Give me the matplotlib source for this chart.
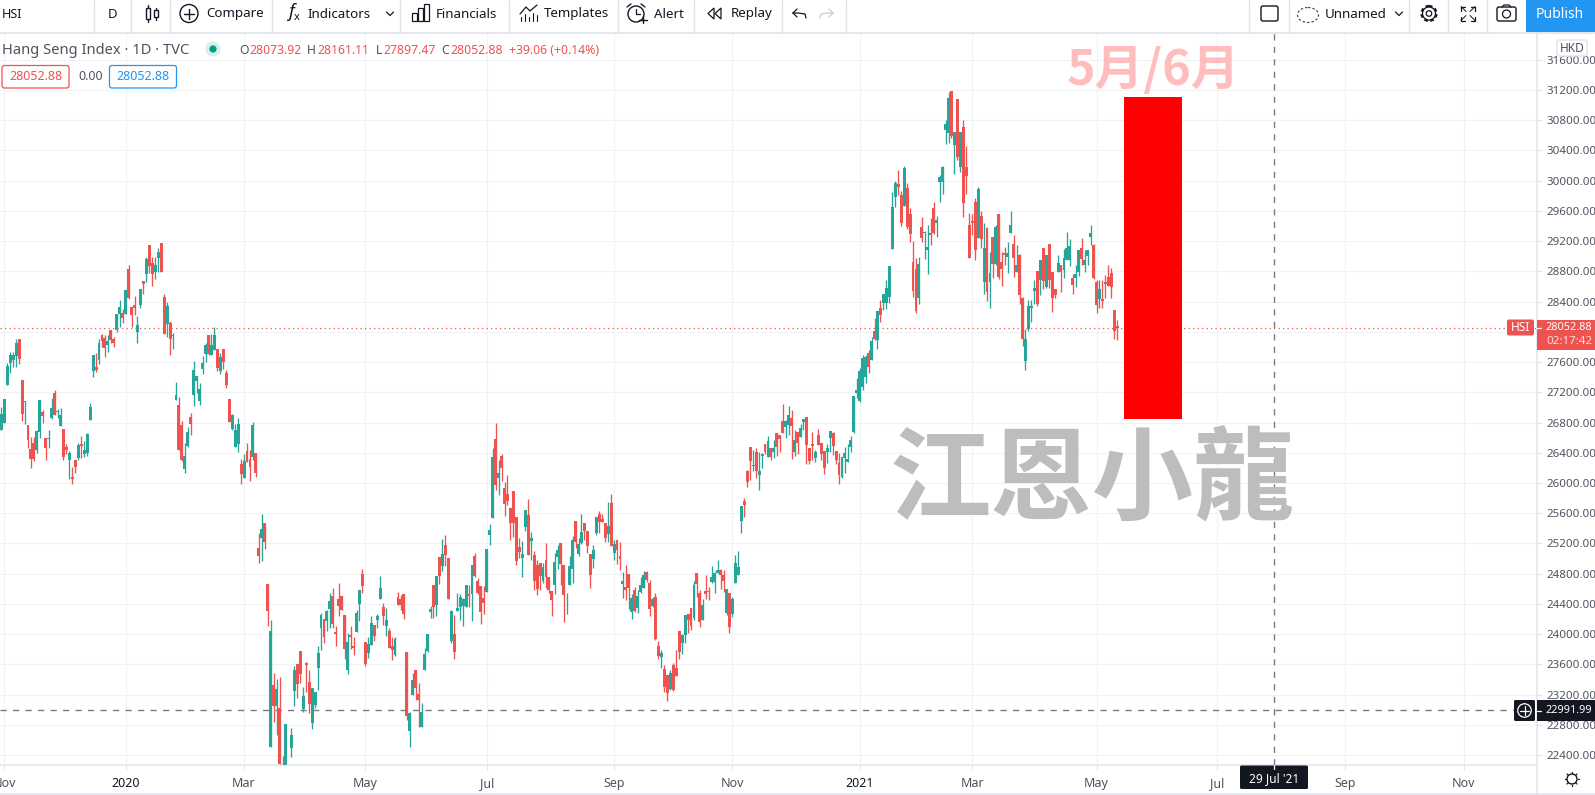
import matplotlib
matplotlib.use("Agg")
import matplotlib.pyplot as plt
from matplotlib.patches import Rectangle, FancyBboxPatch, Circle, Polygon, Ellipse

# ---------- data ----------
direction = "".join([
    "GGGGGGRRGR","RRGGRRGGRG","GRRGRRGRGG","GGRGRRGRRG","GRGRRRGGRG","RRGGRRGRGG","RRGGRGGGGG","RGGRGRRRGG","GRGRRGR",
    "RGRRGRGRRG","RGGRRGRRGG","GGRGGRRRRR","GRRGGRRGGR","GGRGRRGRRR","RGGRRGGGGR","GRGRRGRGGG","GRGRRRRGG",
    "GRGRRRRRRR","GGRGRRRGRR","RGGRRGGGRG","GRRRGGRRRG","RGRRGRRGRG","GGRRGRRGRR","GRRRGGRRGR","RGRRGGGRRG","RGGGGRRRGR",
    "GGRGRGRRRG","GRGRGGRRRG","RRRGGRRRGG","GGGGGGGRGR","GRGGGGGRRG","RRRRGRGGRR","GGGGGRGRGR","RRRRGRGRGR","GRRRGGRGRR",
    "GGGGRGRGRR","RGRGGGRGGR","GGGRRGRRRR","RR",
])
body_top = [
    26912,27111,27547,27688,27688,27847,27905,27362,27080,26767,
    26449,26524,26692,27097,26943,26590,26595,26992,27190,26952,
    26899,26714,26475,26392,26074,26303,26502,26515,26436,26647,
    27009,27693,27534,27852,27958,27922,27878,28024,27905,28235,
    28324,28244,28553,28827,28324,28355,28090,28562,28672,28968,
    29149,28906,28884,29051,29175,28456,28341,28121,27962,27164,
    27031,26767,26356,26678,26877,27494,27415,27247,27583,27825,
    27958,27825,27958,27768,27666,27772,27450,27111,26899,26700,
    26780,26251,26290,26423,26321,26767,26400,
    25144,25391,25475,24663,24041,23327,23274,23022,22246,22811,
    22150,22665,23525,23605,23781,23186,23622,23366,23282,23234,
    23750,24257,24200,24306,24438,24504,24023,24469,24504,24248,
    23895,23988,23847,24284,24584,24795,23895,23869,24147,24120,
    24239,24610,24359,24187,24041,23843,23935,24491,24465,24531,
    23763,22956,23393,23525,23207,22969,23737,24002,24332,24650,
    24769,25020,25055,25179,25007,24306,24002,24345,24487,24465,
    24650,24531,24914,25034,24703,24636,24478,25121,25377,
    26347,26581,26127,26356,25928,25853,25664,25893,25545,25152,
    25059,25642,25576,25271,25046,24914,24936,24883,24980,24755,
    24570,24954,25112,25201,24914,24389,24901,25245,25496,25192,
    25351,25470,25364,25059,25112,25549,25589,25523,25470,25430,
    25734,25187,25245,25033,24702,24623,24795,24477,24583,24504,
    24649,24782,24821,24676,24464,24490,23842,23749,23538,23458,
    23485,23591,23551,24041,23988,24252,24265,24345,24649,24808,
    24543,24385,24570,24566,24755,24808,24848,24848,24782,24596,
    24543,24464,24936,24887,25695,25761,26158,26475,26237,26409,
    26158,26383,26516,26555,26463,26463,26657,26635,26820,26820,
    26900,26855,26569,26675,26728,26847,26873,26463,26516,26410,
    26635,26529,26423,26463,26688,26661,26423,26264,26344,26397,
    26317,26569,27151,27230,27486,27649,27671,27716,27879,28011,
    28276,28315,28501,28576,28871,29647,29973,29956,29810,30172,
    29903,29559,28924,28831,28897,29387,29316,29118,29308,29638,
    29480,30049,30181,30750,31098,31187,30640,31081,30644,30710,
    30181,29413,29466,29718,29890,29532,29109,29374,28778,29255,
    29387,29559,28924,29043,29043,29413,29162,28884,29016,28447,
    27905,28342,28342,28580,28805,28950,29109,29016,29162,28791,
    28566,28911,28884,28977,29109,29135,28712,28765,29083,29109,
    28950,29083,29308,29149,28659,28566,28434,28655,28725,28778,
    28289,28073,
]
body_bottom = [
    26700,26797,27296,27583,27627,27680,27640,26912,27067,26568,
    26317,26317,26436,26670,26886,26462,26586,26864,26899,26939,
    26758,26343,26431,26303,26056,26211,26325,26489,26378,26392,
    26833,27486,27494,27627,27883,27790,27825,27891,27852,28024,
    28235,28183,28235,28443,28222,28319,27997,28355,28632,28765,
    28871,28765,28796,28972,28796,27971,28103,27905,27949,27097,
    26436,26303,26184,26489,26780,27168,27353,27084,27508,27706,
    27706,27693,27759,27516,27481,27605,27296,26806,26714,26480,
    26511,26118,26065,26273,26215,26339,26136,
    25034,25272,25219,24310,22510,23053,23053,22277,22114,22114,
    22050,22493,23247,23340,23472,23009,23596,23075,22828,23062,
    23556,24081,23957,24174,24332,24134,24006,24367,24319,23798,
    23525,23961,23816,24028,24398,24636,23605,23750,23856,23975,
    24187,24465,24239,24107,23816,23794,23723,24385,24385,24266,
    22916,22718,23194,23287,23128,22770,23525,23776,24293,24363,
    24385,24769,24901,25047,24465,23909,23763,24306,24359,24372,
    24363,24504,24531,24769,24544,24293,24412,24561,25311,
    25540,25973,26065,26197,25721,25761,25474,25474,24971,25086,
    25007,25417,25046,25231,24702,24596,24768,24702,24755,24583,
    24451,24649,25020,24927,24517,24380,24649,24861,25218,25059,
    25205,25368,25165,24782,24993,25337,25483,25483,25271,25324,
    25165,25073,25112,24993,24662,24583,24610,24292,24305,24345,
    24557,24610,24715,24332,24371,23935,23710,23696,23299,23220,
    23273,23260,23445,23763,23882,23988,24186,24107,24213,24662,
    24160,24186,24530,24557,24689,24689,24804,24782,24702,24279,
    24093,24265,24680,24782,25496,25708,26012,26290,26224,26158,
    26105,26357,26410,26344,26344,26410,26476,26582,26661,26745,
    26767,26754,26410,26529,26608,26807,26503,26291,26489,26331,
    26503,26383,26198,26410,26595,26489,26304,26106,26079,26331,
    26277,26476,26675,27191,27085,27270,27407,27530,27627,27905,
    27892,28223,28382,28382,28456,29096,29788,29920,29435,29669,
    29387,29294,28540,28275,28447,29241,29303,29083,29281,29308,
    29440,29987,29987,30671,30626,30591,30472,30313,30181,29705,
    30062,28977,29440,29083,29241,29228,28659,28527,28659,28897,
    28897,28725,28831,29016,28990,29308,28977,28791,28487,27905,
    27614,28037,28315,28540,28368,28686,28672,28593,28686,28447,
    28487,28791,28791,28818,28950,28950,28619,28712,28791,28963,
    28884,29003,29255,28712,28355,28434,28408,28633,28606,28593,
    28011,28052,
]
highs = [
    27009,27111,27583,27737,27733,27900,27905,27362,27089,26767,
    26603,26603,26700,27097,26965,26590,26700,27124,27230,26974,
    26987,26714,26515,26423,26215,26303,26524,26621,26555,26656,
    27058,27693,27715,27900,27975,27958,27953,28024,27927,28235,
    28421,28297,28553,28884,28324,28474,28209,28562,28672,28985,
    29149,28985,28985,29104,29175,28496,28399,28147,27988,27336,
    27133,26824,26524,26745,26930,27618,27415,27318,27680,27847,
    27958,27971,28068,27768,27715,27772,27494,27111,26912,26780,
    26855,26317,26383,26524,26436,26806,26400,
    25334,25590,25475,24663,24187,23481,23406,23437,22387,22811,
    22240,22753,23578,23605,23781,23305,23635,23525,23282,23234,
    23847,24275,24200,24319,24540,24606,24107,24672,24504,24248,
    24010,24107,23966,24319,24584,24861,23895,23966,24239,24120,
    24266,24769,24416,24341,24076,23957,23966,24553,24517,24531,
    23763,22969,23481,23525,23348,23093,23812,24002,24377,24650,
    24769,25020,25258,25311,25007,24319,24253,24540,24531,24473,
    24650,24650,24914,25069,24743,24636,24636,25121,25456,
    26467,26789,26303,26383,26017,26105,25664,25893,25545,25267,
    25231,25642,25787,25351,25099,24980,24936,24936,25201,24755,
    24570,25068,25179,25201,24914,24539,25033,25298,25496,25267,
    25589,25470,25364,25059,25179,25549,25628,25589,25470,25748,
    25853,25245,25245,25218,24817,24914,24795,24530,24618,24583,
    24751,24834,24834,24715,24495,24539,23913,23789,23591,23458,
    23524,23613,23789,24041,24001,24252,24265,24345,24702,24808,
    24583,24464,24782,24623,24901,24826,24980,24865,24848,24596,
    24543,24495,25046,25099,25695,25796,26171,26475,26436,26462,
    26414,26392,26516,26622,26463,26569,26657,26635,27045,26833,
    27019,26966,26701,26675,26780,26847,26873,26463,26675,26436,
    26714,26529,26423,26516,26688,26675,26423,26397,26344,26476,
    26516,26622,27151,27385,27517,27694,27694,27755,27932,28179,
    28276,28421,28501,28686,28871,29854,29995,30141,29863,30194,
    29965,29634,29202,28977,28990,29519,29334,29413,29502,29718,
    29532,30075,30194,30803,31178,31187,30640,31081,30644,30803,
    30459,29568,29559,29766,29916,29599,29435,29387,29056,29255,
    29413,29559,29056,29122,29188,29599,29281,29149,29030,28461,
    28037,28421,28421,28686,28805,28950,29109,29016,29162,28791,
    28566,29016,28884,29096,29321,29228,28765,28884,29083,29241,
    29083,29083,29413,29162,28686,28686,28686,28752,28884,28844,
    28289,28161,
]
lows = [
    26700,26797,27296,27459,27538,27530,27574,26824,26780,26467,
    26198,26295,26400,26599,26797,26303,26458,26846,26894,26864,
    26749,26303,26383,26056,25990,26127,26303,26334,26347,26361,
    26833,27406,27472,27569,27794,27671,27728,27847,27794,28002,
    28059,28121,28235,28430,28059,28227,27856,28319,28500,28663,
    28774,28610,28694,28796,28796,27971,27927,27693,27772,27097,
    26436,26295,26136,26480,26634,27022,27186,27031,27437,27596,
    27693,27693,27759,27486,27437,27503,27261,26806,26700,26480,
    26414,25986,26065,26273,26030,26303,26083,
    24945,24972,25127,24107,22510,22841,22665,22277,22025,22025,
    21950,22378,23049,23150,23358,22974,23238,22952,22749,23018,
    23260,23790,23887,24041,24076,24085,23847,24239,24319,23670,
    23472,23798,23723,24028,24178,24548,23578,23680,23856,23913,
    24076,24465,24120,23975,23816,23657,23714,24385,24319,24200,
    22863,22506,23194,23128,22775,22770,23525,23763,24213,24209,
    24239,24663,24839,24901,24465,23878,23670,24301,24187,24107,
    24354,24363,24174,24756,24535,24134,24266,24561,25179,
    25540,25906,25840,26021,25562,25708,25245,25289,24914,25002,
    24760,25368,25046,24980,24583,24517,24583,24671,24605,24548,
    24239,24530,24861,24649,24160,24265,24649,24671,25139,25033,
    25192,25245,25073,24610,24874,25311,25333,25483,25218,25223,
    25165,24980,24927,24848,24477,24451,24332,24199,24296,24283,
    24548,24610,24693,24239,24363,23921,23670,23551,23233,23114,
    23260,23246,23445,23670,23736,23877,24014,24054,24186,24490,
    24093,24186,24464,24451,24680,24543,24804,24596,24561,24252,
    24014,24230,24680,24782,25337,25545,25946,26039,26158,26065,
    25906,26194,26383,26344,26304,26331,26361,26410,26661,26595,
    26635,26317,26357,26383,26608,26701,26251,26251,26304,26282,
    26503,26304,26119,26264,26410,26370,26251,25986,26065,26132,
    26277,26414,26657,27120,27072,27230,27319,27460,27627,27892,
    27773,28130,28289,28302,28385,29096,29656,29810,29400,29669,
    29356,29193,28461,28249,28368,29188,28963,28765,29149,29294,
    29255,29722,29824,30485,30494,30569,30088,30274,30115,29519,
    29824,28977,29281,28950,29241,29105,28500,28408,28315,28708,
    28884,28699,28606,28884,28778,29308,28725,28791,28368,27812,
    27495,28011,28130,28368,28342,28487,28566,28580,28580,28262,
    28447,28791,28527,28708,28950,28871,28500,28593,28738,28884,
    28791,28884,29149,28699,28249,28315,28315,28443,28606,28447,
    27905,27897,
]
time_ticks = [1, 42, 82, 123, 164, 207, 247, 290, 328, 370, 410.7, 454, 494]
time_labels = ["Nov", "2020", "Mar", "May", "Jul", "Sep", "Nov", "2021", "Mar", "May", "Jul", "Sep", "Nov"]
price_ticks = list(range(22400, 31601, 400))
last_price = 28052.88
alert_price = 22991.99
cross_index = 430
forecast_index = [379.3, 398.9]
forecast_price = [26846, 31111]

# ---------- style ----------
plt.rcParams['font.family'] = ['Noto Sans', 'Noto Sans CJK TC', 'DejaVu Sans']
RED, GREEN = '#EF5350', '#26A69A'
GRID, BORDER = '#F0F3F6', '#E0E3EB'
DARK, MUTE = '#131722', '#50535E'
W, H = 1595, 795

fig = plt.figure(figsize=(W / 100, H / 100), dpi=100, facecolor='white')
ax = fig.add_axes([0, (H - 765.3) / H, 1536.5 / W, (765.3 - 33) / H])
step = 2.96
ax.set_xlim(-1.33 / step, (1536.5 - 1.33) / step)
ax.set_ylim(31200 - (765.3 - 90) * 13.233, 31200 + (90 - 33) * 13.233)

xs = list(range(len(body_top)))
colors = [GREEN if d == 'G' else RED for d in direction]
ax.vlines(xs, lows, highs, colors=colors, linewidth=0.95, zorder=3)
ax.bar(xs, [t - b for t, b in zip(body_top, body_bottom)], bottom=body_bottom, width=0.98,
       color=colors, linewidth=0, zorder=3.2)

ax.set_xticks(time_ticks)
ax.set_xticklabels(time_labels, fontsize=9, color=MUTE)
for lab, txt in zip(ax.get_xticklabels(), time_labels):
    if txt.startswith('20'):
        lab.set_fontweight('bold')
        lab.set_color(DARK)
ax.set_yticks(price_ticks)
ax.set_yticklabels([f"{p:.2f}" for p in price_ticks], fontsize=8.3, color=MUTE)
ax.yaxis.tick_right()
ax.tick_params(axis='y', length=3.5, color=BORDER, pad=3.5)
ax.tick_params(axis='x', length=3.5, color=BORDER, pad=5)
ax.grid(True, color=GRID, linewidth=0.8, zorder=0)
ax.set_axisbelow(True)
for s in ('top', 'left'):
    ax.spines[s].set_visible(False)
for s in ('right', 'bottom'):
    ax.spines[s].set_color(BORDER)
    ax.spines[s].set_linewidth(1.1)

ax.axhline(last_price, color=RED, linewidth=0.9, linestyle=(0, (1, 2.6)), zorder=2)
ax.axhline(alert_price, color='#787B86', linewidth=1, linestyle=(0, (4.5, 4.5)), zorder=2.5)
ax.axvline(cross_index, color='#787B86', linewidth=1, linestyle=(0, (4.5, 4.5)), zorder=4)
ax.fill_between(forecast_index, forecast_price[0], forecast_price[1], color='#FF0000', linewidth=0, zorder=4.2)

# ---------- overlay in pixel coordinates for interface furniture ----------
ov = fig.add_axes([0, 0, 1, 1], zorder=5)
ov.set_xlim(0, W)
ov.set_ylim(H, 0)
ov.axis('off')
ov.patch.set_alpha(0)

def T(x, y, s, size=9.5, color=DARK, ha='left', va='center', **kw):
    return ov.text(x, y, s, fontsize=size, color=color, ha=ha, va=va, **kw)

def L(xs_, ys_, color=DARK, lw=1.0, **kw):
    ov.plot(xs_, ys_, color=color, linewidth=lw, solid_capstyle='round', **kw)

# watermark and annotation text
T(1092, 482, "江恩小龍", size=73, color='#BDBDBD', ha='center', fontweight='bold',
  family=['Noto Sans CJK TC'], zorder=3)
T(1153, 70.5, "5月/6月", size=35, color='#FFBDBD', ha='center', fontweight='bold',
  family=['Noto Sans CJK TC'])

# toolbar
ov.add_patch(Rectangle((0, 0), W, 32, fc='white', ec='none', zorder=1))
L([0, W], [32.5, 32.5], BORDER, 1.2, zorder=2)
for x in (93.5, 131, 170, 272, 400, 508.6, 617.6, 694, 782, 846, 1249, 1289, 1409, 1448, 1487):
    L([x, x], [0, 32], BORDER, 1, zorder=2)
ov.add_patch(Rectangle((1526, 0), W - 1526, 32, fc='#2196F3', ec='none', zorder=2))
T(1560, 14, "Publish", 10, 'white', ha='center', zorder=3)
T(2, 14, "HSI", 9, DARK, fontweight='bold', zorder=3)
T(112.7, 14, "D", 9.5, DARK, ha='center', zorder=3)
for s, x in (("Compare", 206), ("Indicators", 308), ("Financials", 436), ("Templates", 544),
             ("Alert", 654), ("Replay", 731)):
    T(x, 14, s, 9.6, DARK, zorder=3)
T(1325, 14, "Unnamed", 9.6, DARK, zorder=3)
# icons
L([148, 148], [5, 22], DARK, 1, zorder=3)
ov.add_patch(Rectangle((146, 8), 4, 11, fc='white', ec=DARK, lw=1, zorder=3))
L([155.5, 155.5], [8, 20], DARK, 1, zorder=3)
ov.add_patch(Rectangle((153.5, 10), 4, 7, fc='white', ec=DARK, lw=1, zorder=3))
ov.add_patch(Ellipse((189, 13.5), 18, 18, fc='none', ec=DARK, lw=1, zorder=3))
L([189, 189], [8.5, 18.5], DARK, 1, zorder=3)
L([184, 194], [13.5, 13.5], DARK, 1, zorder=3)
T(291, 12, "f", 13, DARK, ha='center', style='italic', zorder=3)
T(297, 18, "x", 8, DARK, ha='center', zorder=3)
for x0 in (390, 1399):
    L([x0 - 3.5, x0, x0 + 3.5], [12, 15.5, 12], DARK, 0.9, zorder=3)
for x0, hh in ((412, 8), (418, 13), (424, 17)):
    ov.add_patch(Rectangle((x0, 21 - hh), 5, hh, fc='none', ec=DARK, lw=0.9, zorder=3))
L([520, 526, 530, 537], [14, 7, 11, 5], DARK, 0.9, zorder=3)
for x0, y0 in ((521, 17), (525, 14), (529, 17), (533, 13), (537, 15)):
    L([x0, x0], [y0, 21], DARK, 0.8, zorder=3)
ov.add_patch(Ellipse((636, 14), 16, 16, fc='none', ec=DARK, lw=1, zorder=3))
L([636, 636, 640], [9, 14, 14], DARK, 0.9, zorder=3)
L([627, 631], [7, 4], DARK, 1, zorder=3)
L([641, 645], [4, 7], DARK, 1, zorder=3)
L([643, 643], [16, 23], DARK, 1, zorder=3)
L([639, 647], [19.5, 19.5], DARK, 1, zorder=3)
ov.add_patch(Polygon([(714, 8), (714, 19), (708, 13.5)], closed=True, fc='none', ec=DARK, lw=0.9, zorder=3))
ov.add_patch(Polygon([(721, 8), (721, 19), (715, 13.5)], closed=True, fc='none', ec=DARK, lw=0.9, zorder=3))
L([793, 798, 805, 806], [13, 13, 14, 18], DARK, 0.9, zorder=3)
L([793, 797], [13, 9], DARK, 0.9, zorder=3)
L([793, 797], [13, 17], DARK, 0.9, zorder=3)
L([833, 828, 821, 820], [13, 13, 14, 18], '#C9CBD1', 0.9, zorder=3)
L([833, 829], [13, 9], '#C9CBD1', 0.9, zorder=3)
L([833, 829], [13, 17], '#C9CBD1', 0.9, zorder=3)
ov.add_patch(FancyBboxPatch((1261, 6), 17, 15, boxstyle="round,pad=0,rounding_size=2", fc='none', ec=DARK, lw=1, zorder=3))
ov.add_patch(Ellipse((1308, 15), 21, 15, fc='none', ec='#50535E', lw=0.9, linestyle=(0, (2, 1.6)), zorder=3))
ov.add_patch(Ellipse((1429, 13.5), 15, 15, fc='none', ec=DARK, lw=1.6, linestyle=(0, (1.6, 1.2)), zorder=3))
ov.add_patch(Ellipse((1429, 13.5), 13, 13, fc='none', ec=DARK, lw=0.9, zorder=3))
ov.add_patch(Ellipse((1429, 13.5), 5.5, 5.5, fc='none', ec=DARK, lw=0.9, zorder=3))
for dx, dy in ((-1, -1), (1, -1), (-1, 1), (1, 1)):
    cx, cy = 1468 + dx * 7, 13.5 + dy * 7
    L([cx, cx - dx * 4], [cy, cy], DARK, 0.9, zorder=3)
    L([cx, cx], [cy, cy - dy * 4], DARK, 0.9, zorder=3)
    L([cx, cx - dx * 5], [cy, cy - dy * 5], DARK, 0.7, zorder=3)
ov.add_patch(FancyBboxPatch((1497, 7), 19, 14, boxstyle="round,pad=0,rounding_size=2", fc='none', ec=DARK, lw=1, zorder=3))
ov.add_patch(Ellipse((1506.5, 14), 8, 8, fc='none', ec=DARK, lw=0.9, zorder=3))
L([1502, 1504, 1509, 1511], [7, 5, 5, 7], DARK, 0.9, zorder=3)

# header rows
T(2, 50, "Hang Seng Index · 1D · TVC", 10.6, MUTE)
ov.add_patch(Circle((213, 49), 7.5, fc='#D7EFEC', ec='none'))
ov.add_patch(Circle((213, 49), 3.6, fc='#089981', ec='none'))
for lead, x0, val_x, val in (("O", 239, 249, "28073.92"), ("H", 307, 317.5, "28161.11"),
                             ("L", 375.5, 383, "27897.47"), ("C", 441.6, 450, "28052.88")):
    T(x0, 50.5, lead, 8.8, MUTE)
    T(val_x, 50.5, val, 8.8, RED)
T(509, 50.5, "+39.06 (+0.14%)", 8.8, RED)
ov.add_patch(FancyBboxPatch((2, 65.5), 67, 22.5, boxstyle="round,pad=0,rounding_size=2.5", fc='white', ec=RED, lw=0.9))
T(35.5, 77, "28052.88", 9, RED, ha='center')
T(78, 77, "0.00", 9, MUTE)
ov.add_patch(FancyBboxPatch((109.5, 65.5), 67, 22.5, boxstyle="round,pad=0,rounding_size=2.5", fc='white', ec='#2196F3', lw=0.9))
T(143, 77, "28052.88", 9, '#2196F3', ha='center')

# price scale furniture
ov.add_patch(FancyBboxPatch((1557, 40), 30, 16, boxstyle="round,pad=0,rounding_size=2.5", fc='white', ec=BORDER, lw=1))
T(1572, 48, "HKD", 8.6, MUTE, ha='center')
ov.add_patch(FancyBboxPatch((1507, 319.5), 27, 16, boxstyle="round,pad=0,rounding_size=2", fc=RED, ec='none'))
T(1520.5, 327.5, "HSI", 8.6, 'white', ha='center', fontweight='bold')
ov.add_patch(Rectangle((1537, 319.5), W - 1537, 30, fc=RED, ec='none'))
L([1537, 1541], [327.5, 327.5], 'white', 0.9)
T(1546, 327, "28052.88", 7.9, 'white', fontweight='bold')
T(1546, 341, "02:17:42", 8.3, '#FFD9D8')
ov.add_patch(FancyBboxPatch((1514, 700), 21, 21, boxstyle="round,pad=0,rounding_size=1.5", fc=DARK, ec='none'))
ov.add_patch(Rectangle((1537, 700), W - 1537, 21, fc=DARK, ec='none'))
L([1537, 1541], [710.5, 710.5], 'white', 0.9)
T(1546, 710.5, "22991.99", 7.9, 'white', fontweight='bold')
ov.add_patch(Ellipse((1524.5, 710.5), 13.5, 13.5, fc='none', ec='white', lw=0.9))
L([1524.5, 1524.5], [706, 715], 'white', 0.9)
L([1520, 1529], [710.5, 710.5], 'white', 0.9)

# time scale furniture
ov.add_patch(FancyBboxPatch((1240, 765.5), 68, 23.5, boxstyle="round,pad=0,rounding_size=1.5", fc=DARK, ec='none'))
T(1274, 779, "29 Jul '21", 8.6, 'white', ha='center', fontweight='bold')
L([1274.3, 1274.3], [765, 769], 'white', 0.9)
L([1536.5, 1536.5], [765, 793], BORDER, 1.1)
L([0, W], [793.5, 793.5], BORDER, 1.2)
ov.add_patch(Ellipse((1572, 779), 10, 10, fc='none', ec=DARK, lw=1))
for dx, dy in ((0, -7), (0, 7), (-7, 0), (7, 0), (-5, -5), (5, -5), (-5, 5), (5, 5)):
    L([1572 + dx * 0.8, 1572 + dx], [779 + dy * 0.8, 779 + dy], DARK, 0.9)

fig.savefig("out.png", dpi=100, facecolor='white')
